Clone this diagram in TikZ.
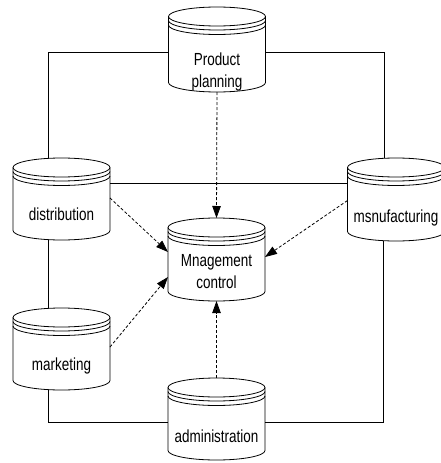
\documentclass[tikz,border=0pt]{standalone}
\usepackage{fontspec}
\setmainfont{Liberation Sans}[FakeStretch=0.77]
\usetikzlibrary{arrows.meta,calc}
\tikzset{
  cylbox/.style={draw=none,minimum width=97pt,inner sep=0pt,outer sep=0pt},
  cylline/.style={line width=0.8pt,black},
  conn/.style={line width=0.8pt,black},
  dconn/.style={line width=0.8pt,black,dash pattern=on 3pt off 2pt,-{Triangle[length=12pt,width=8.5pt]}},
  lbl/.style={anchor=base,inner sep=0pt,font=\fontsize{17.5}{21}\selectfont}
}
% #1 name, #2 cx, #3 top (px), #4 bottom (px)
\newcommand{\dbcyl}[4]{%
  \node[cylbox,minimum height={(#4-#3)*1pt}] (#1) at (#2,{-(#3+#4)/2}) {};
  \draw[cylline] ([yshift=-9.5pt]#1.north west) -- ([yshift=9.5pt]#1.south west)
     arc[start angle=180,end angle=360,x radius=48.5pt,y radius=9.5pt]
     -- ([yshift=-9.5pt]#1.north east);
  \draw[cylline] ([yshift=-9.5pt]#1.north) ellipse[x radius=48.5pt,y radius=9.5pt];
  \draw[cylline] ([yshift=-13.5pt]#1.north west) arc[start angle=180,end angle=360,x radius=48.5pt,y radius=9.5pt];
  \draw[cylline] ([yshift=-18pt]#1.north west) arc[start angle=180,end angle=360,x radius=48.5pt,y radius=9.5pt];
}
\begin{document}
\begin{tikzpicture}[x=1pt,y=1pt]
\fill[white] (0,0) rectangle (441,-463);
\useasboundingbox (0,0) rectangle (441,-463);

\dbcyl{pp}{217}{7}{92}
\dbcyl{dist}{61.5}{158}{240}
\dbcyl{msn}{396}{158}{241}
\dbcyl{mc}{216.5}{218}{301}
\dbcyl{mkt}{61.5}{308}{390}
\dbcyl{adm}{216.5}{378}{460}

\node[lbl] (pp-t1) at (217,-65.7) {Product};
\node[lbl] (pp-t2) at (217,-87.7) {planning};
\node[lbl] (dist-t) at (61.5,-220.7) {distribution};
\node[lbl] (msn-t) at (396,-222) {msnufacturing};
\node[lbl] (mc-t1) at (216.5,-266.7) {Mnagement};
\node[lbl] (mc-t2) at (216.5,-288) {control};
\node[lbl] (mkt-t) at (61.5,-370) {marketing};
\node[lbl] (adm-t) at (216.5,-442.7) {administration};

\coordinate (c1) at (48,-52);
\coordinate (c2) at (384,-52);
\coordinate (c3) at (48,-422);
\coordinate (c4) at (383,-422);

% solid connectors
\draw[conn] (pp.west |- c1) -- (c1) -- (dist.north -| c1);
\draw[conn] (pp.east |- c2) -- (c2) -- (msn.north -| c2);
\draw[conn] ([yshift=16pt]dist.east) -- ([yshift=16pt]dist.east -| msn.west);
\draw[conn] (dist.south -| c1) -- (mkt.north -| c1);
\draw[conn] (mkt.south -| c1) -- (c3) -- (adm.west |- c3);
\draw[conn] (adm.east |- c4) -- (c4) -- (msn.south -| c4);

% dashed arrows
\draw[dconn] (pp.south) -- (mc.north);
\draw[dconn] ([yshift=1pt]dist.east) -- ([yshift=7.5pt]mc.west);
\draw[dconn] ([yshift=-1pt]msn.west) -- ([yshift=2.5pt]mc.east);
\draw[dconn] ([yshift=2pt]mkt.east) -- ([yshift=-17.5pt]mc.west);
\draw[dconn] (adm.north) -- (mc.south);
\end{tikzpicture}
\end{document}
